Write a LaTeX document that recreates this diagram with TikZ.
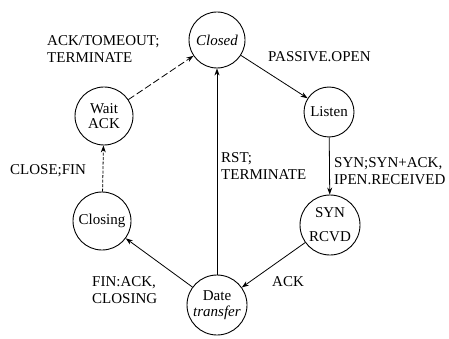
\documentclass[tikz,border=0pt]{standalone}
\usepackage{fontspec}
\setmainfont{Liberation Serif}
\usetikzlibrary{arrows.meta}
\begin{document}
\begin{tikzpicture}[x=1pt,y=-1pt,
  every node/.style={font=\fontsize{15}{17}\selectfont},
  state/.style={draw,circle,line width=0.9pt,inner sep=0pt,align=center},
  lbl/.style={anchor=west,align=left,inner sep=0pt},
  trans/.style={line width=0.8pt,-{Stealth[length=7pt,width=5pt]}},
  dashtrans/.style={trans,dash pattern=on 7pt off 3pt},
  dottrans/.style={trans,dash pattern=on 3pt off 1.5pt}]
  \useasboundingbox (0,0) rectangle (449,339);

  % states
  \node[state,minimum size=56pt] (closed) at (217,40) {\textit{Closed}};
  \node[state,minimum size=50pt] (listen) at (329,112) {Listen};
  \node[state,minimum size=60pt,font=\fontsize{15}{24}\selectfont] (synrcvd) at (330,225) {SYN\\RCVD};
  \node[state,minimum size=60pt,font=\fontsize{15}{15.5}\selectfont] (data) at (217,305) {Date\\\textit{transfer}};
  \node[state,minimum size=58pt] (closing) at (102,221) {Closing};
  \node[state,minimum size=58pt,font=\fontsize{15}{15.5}\selectfont] (waitack) at (104,116) {Wait\\ACK};

  % transitions
  \draw[trans] (closed) -- (listen);
  \draw[trans] (listen) -- (synrcvd);
  \draw[trans] (synrcvd) -- (data);
  \draw[trans] (data) -- (closing);
  \draw[dottrans] (closing) -- (waitack);
  \draw[dashtrans] (waitack) -- (closed);
  \draw[trans] (data) -- (closed);

  % transition labels
  \node[lbl] (l1) at (47,49) {ACK/TOMEOUT;\\TERMINATE};
  \node[lbl] (l2) at (268,57) {PASSIVE.OPEN};
  \node[lbl] (l3) at (334,171) {SYN;SYN+ACK,\\IPEN.RECEIVED};
  \node[lbl] (l4) at (272,282) {ACK};
  \node[lbl] (l5) at (92,290) {FIN:ACK,\\CLOSING};
  \node[lbl] (l6) at (10,171) {CLOSE;FIN};
  \node[lbl] (l7) at (221,166) {RST;\\TERMINATE};
\end{tikzpicture}
\end{document}
